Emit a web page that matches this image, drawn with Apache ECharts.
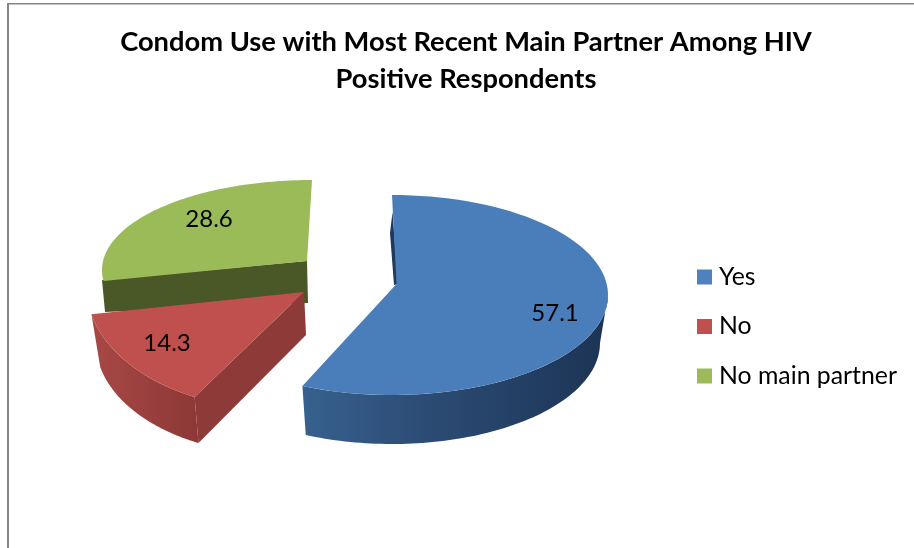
<!DOCTYPE html>
<html><head><meta charset="utf-8">
<style>html,body{margin:0;padding:0;background:#fff}#c{width:914px;height:548px}</style>
<script src="https://cdn.jsdelivr.net/npm/echarts@6/dist/echarts.min.js"></script>
</head><body><div id="c"></div>
<script>
const categories = ['Yes', 'No', 'No main partner'];
const values = [57.1, 14.3, 28.6];
const titleText = 'Condom Use with Most Recent Main Partner Among HIV\nPositive Respondents';

const FONT = 'Lato, "Open Sans", sans-serif';
const total = values.reduce((a, b) => a + b, 0);

// Appearance of each exploded, perspective-projected slice.
// warp: ellipse-parameter range that the slice's true angular range is mapped onto (perspective correction).
const looks = [
  { top: '#4a7ebb', side: '#1f3a5e',
    upper: { cx: 392, cy: 295, rx: 216, ry: 100 }, lower: { cx: 392, cy: 343, rx: 208, ry: 101 },
    warp: [0, 204.5], apex: [396.5, 284], label: [555, 313], wallFrom: 90,
    sidePoly: [[392.5, 212], [390, 233], [394, 285], [398, 284]] },
  { top: '#c0504d', side: '#8e3a38',
    upper: { cx: 276.6, cy: 287, rx: 190, ry: 122 }, lower: { cx: 276.6, cy: 342, rx: 181, ry: 112 },
    apex: [304, 292], label: [167, 343], wallFrom: 0,
    sideFront: [[306, 335]] },
  { top: '#9bbb59', side: '#4a5726',
    upper: { cx: 312, cy: 270, rx: 210, ry: 90 }, lower: null,
    warp: [263, 360], apex: [307, 261], label: [209, 219], wallFrom: 0,
    sidePoly: [[307, 261], [102, 280], [105, 312], [308, 303]] }
];
const wallStops = [
  [{ offset: 0, color: '#38618f' }, { offset: 0.4, color: '#2c4c75' }, { offset: 1, color: '#1c3454' }],
  [{ offset: 0, color: '#a84846' }, { offset: 0.5, color: '#9a403e' }, { offset: 1, color: '#8c3836' }],
  null
];
const colors = ['#4f81bd', '#c0504d', '#9bbb59'];

function pt(e, deg) {
  const a = deg * Math.PI / 180;
  return [e.cx + Math.sin(a) * e.rx, e.cy - Math.cos(a) * e.ry];
}
function arc(e, from, to) {
  const out = [], n = 80;
  for (let i = 0; i <= n; i++) out.push(pt(e, from + (to - from) * i / n));
  return out;
}

function slice(idx) {
  const trueStart = values.slice(0, idx).reduce((a, b) => a + b, 0) / total * 360;
  const trueEnd = trueStart + values[idx] / total * 360;
  const L = looks[idx];
  const start = L.warp ? L.warp[0] : trueStart;
  const end = L.warp ? L.warp[1] : trueEnd;
  const kids = [];
  if (L.lower) {
    const from = Math.max(start, L.wallFrom);
    const upperArc = arc(L.upper, from, end);
    const lowerArc = arc(L.lower, from, end);
    kids.push({
      type: 'polygon',
      shape: { points: upperArc.concat(lowerArc.reverse()) },
      style: { fill: new echarts.graphic.LinearGradient(0, 0, 1, 0, wallStops[idx]) }
    });
  }
  if (L.sidePoly) kids.push({ type: 'polygon', shape: { points: L.sidePoly }, style: { fill: L.side } });
  if (L.sideFront) {
    const lip = pt(L.upper, start), lipLow = pt(L.lower, start);
    kids.push({ type: 'polygon', shape: { points: [lip, L.apex, L.sideFront[0], lipLow] },
      style: { fill: L.side } });
  }
  kids.push({
    type: 'polygon',
    shape: { points: [L.apex].concat(arc(L.upper, start, end)) },
    style: { fill: L.top }
  });
  kids.push({
    type: 'text',
    x: L.label[0], y: L.label[1],
    style: { text: String(values[idx]), fill: '#000', font: '24px ' + FONT, align: 'center', verticalAlign: 'middle' }
  });
  return { type: 'group', children: kids };
}

const drawOrder = [2, 1, 0];
const chart = echarts.init(document.getElementById('c'), null, { renderer: 'canvas' });
chart.setOption({
  animation: false,
  backgroundColor: '#fff',
  title: {
    text: titleText, left: 461, top: 19, textAlign: 'center',
    textStyle: { fontFamily: FONT, fontWeight: 'bold', fontSize: 27.3, lineHeight: 37, color: '#000' }
  },
  legend: {
    orient: 'vertical', left: 697, top: 264.5, padding: 0, itemWidth: 15, itemHeight: 15, itemGap: 24.5,
    data: categories.map(name => ({ name, icon: 'rect' })),
    textStyle: { fontFamily: FONT, fontSize: 24.8, color: '#000', padding: [0, 0, 0, 2] }
  },
  graphic: [
    { type: 'rect', shape: { x: 7, y: 3, width: 2, height: 545 }, style: { fill: '#868686' } },
    { type: 'rect', shape: { x: 7, y: 3, width: 907, height: 1.5 }, style: { fill: '#868686' } }
  ],
  series: drawOrder.map(i => ({
    type: 'custom',
    name: categories[i],
    coordinateSystem: 'none',
    itemStyle: { color: colors[i] },
    data: [values[i]],
    z: 3 - i,
    renderItem: () => slice(i)
  }))
});
</script></body></html>
